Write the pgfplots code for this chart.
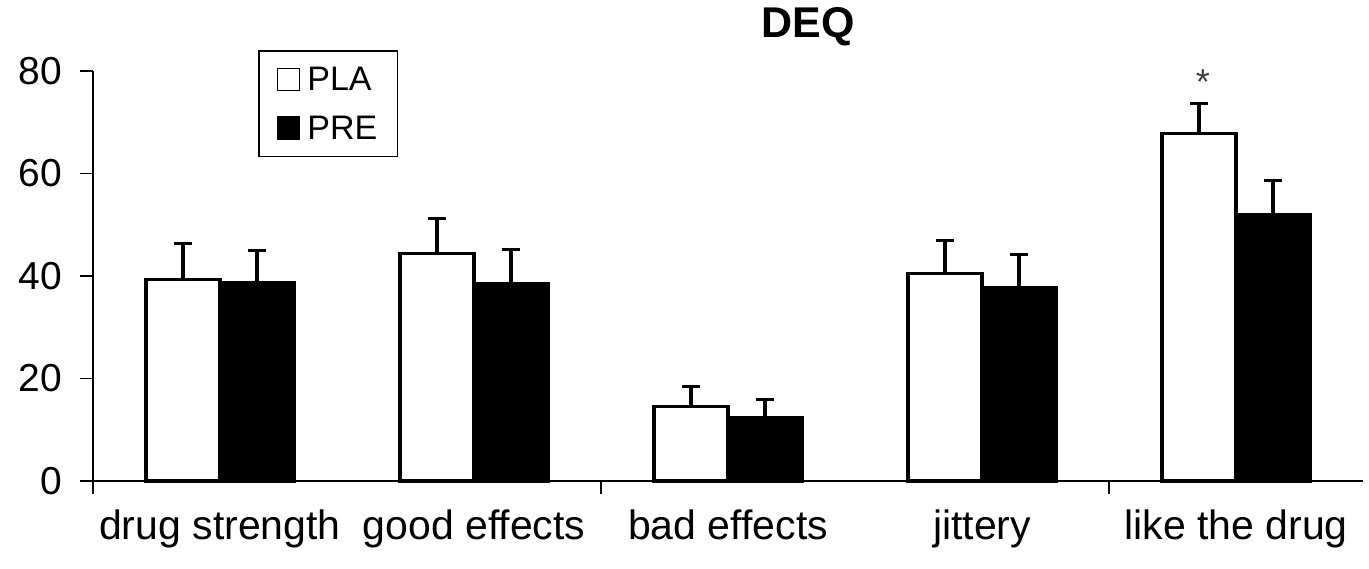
\documentclass[border=0pt]{standalone}
\usepackage{pgfplots}
\pgfplotsset{compat=1.18}
\usepackage{fontspec}
\setmainfont{Liberation Sans}

\begin{document}
\begin{tikzpicture}
\useasboundingbox (-93pt,-87pt) rectangle (1276pt,481pt);
\begin{axis}[
  scale only axis, width=1270pt, height=410pt,
  at={(0pt,0pt)}, anchor=south west,
  xmin=-0.5, xmax=4.5, ymin=0, ymax=80,
  clip=false,
  axis lines=left,
  axis line style={-, line width=1.5pt},
  x axis line style={line width=2.5pt},
  tick align=outside,
  major tick length=13pt,
  tick style={line width=1.5pt, black},
  ytick={0,20,40,60,80},
  xtick={-0.5,1.5,3.5},
  xticklabels={,,},
  extra x ticks={0,1,2,3,4},
  extra x tick labels={drug strength, good effects, bad effects, jittery, like the drug},
  extra x tick style={tick style={draw=none}},
  xticklabel style={font=\fontsize{41}{45}\selectfont, anchor=base, yshift=-45pt, inner sep=0pt},
  yticklabel style={font=\fontsize{39}{40}\selectfont, anchor=east, inner sep=0pt, xshift=-18pt},
  /pgf/number format/assume math mode=true,
  title={DEQ},
  title style={at={(0.563,1.068)}, anchor=base, font=\bfseries\fontsize{43}{45}\selectfont},
  legend style={at={(0.130,1.051)}, anchor=north west, draw=black, line width=1.5pt,
    font=\fontsize{34}{38}\selectfont, inner xsep=18pt, inner ysep=14pt, row sep=20pt},
  legend cell align=left,
  legend image code/.code={\draw[#1, line width=1.5pt] (0pt,-11pt) rectangle (22pt,11pt); \path (26pt,0pt);},
  bar width=0.291,
]
\addplot[ybar, bar shift=0pt, fill=white, draw=black, line width=3.5pt,
  error bars/.cd, y dir=plus, y explicit,
  error bar style={line width=3.5pt, black},
  error mark options={rotate=90, mark size=9pt, line width=3pt, black}]
  coordinates {
  (-0.1455,39.3) +- (0,7.0)
  (0.8545,44.4) +- (0,6.8)
  (1.8545,14.5) +- (0,3.9)
  (2.8545,40.5) +- (0,6.5)
  (3.8545,67.8) +- (0,5.9)
};
\addlegendentry{PLA}
\addplot[ybar, bar shift=0pt, fill=black, draw=black, line width=3.5pt,
  error bars/.cd, y dir=plus, y explicit,
  error bar style={line width=3.5pt, black},
  error mark options={rotate=90, mark size=9pt, line width=3pt, black}]
  coordinates {
  (0.1455,38.7) +- (0,6.3)
  (1.1455,38.5) +- (0,6.7)
  (2.1455,12.4) +- (0,3.6)
  (3.1455,37.7) +- (0,6.5)
  (4.1455,52.0) +- (0,6.6)
};
\addlegendentry{PRE}
\node[font=\fontsize{36}{36}\selectfont, text=darkgray, inner sep=0pt] at (axis cs:3.87,77.8) {*};
\end{axis}
\end{tikzpicture}
\end{document}
